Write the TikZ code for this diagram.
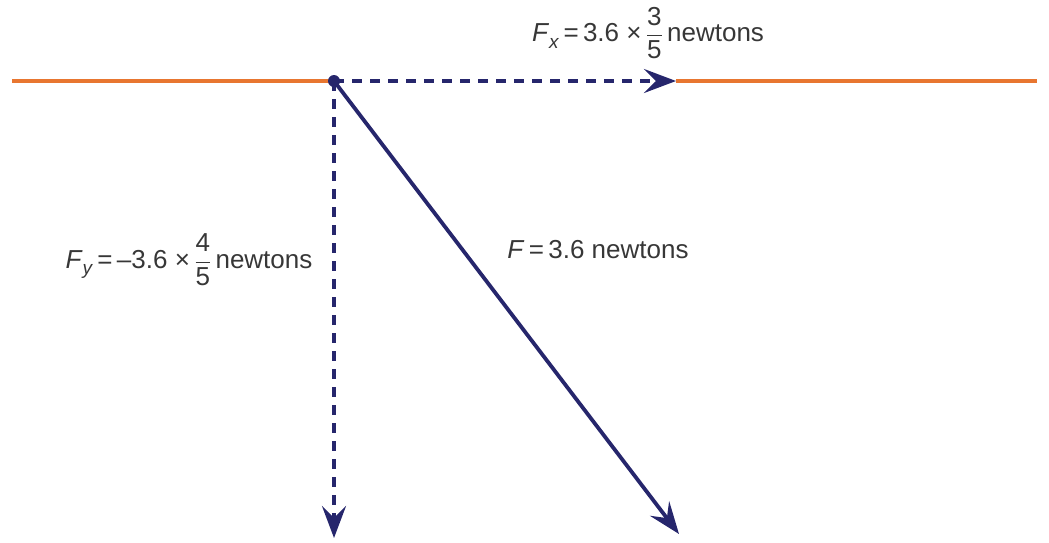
\documentclass[tikz,border=0pt]{standalone}
\usepackage{amsmath}
\usepackage{fontspec}
\setmainfont{Liberation Sans}
\usetikzlibrary{arrows.meta}
\definecolor{navy}{RGB}{38,38,108}
\definecolor{ground}{RGB}{232,118,48}
\definecolor{labelgray}{RGB}{55,55,55}
\tikzset{
  vec/.style={navy, line width=3.8pt, -{Stealth[length=32pt,width=24pt,inset=12pt]}},
  comp/.style={vec, dash pattern=on 10pt off 8pt},
  groundline/.style={ground, line width=3.2pt},
  lbl/.style={text=labelgray, font=\fontsize{26}{30}\selectfont, inner sep=0pt},
}
\newcommand{\fr}[2]{$\dfrac{\text{#1}}{\text{#2}}$}
\newcommand{\sub}[1]{\raisebox{-0.45ex}{\fontsize{19}{22}\selectfont\textit{#1}}}
\begin{document}
\begin{tikzpicture}[x=1pt,y=-1pt]
\useasboundingbox (0,0) rectangle (1049,542);
\coordinate (L) at (12,81);
\coordinate (R) at (1037,81);
\coordinate (O) at (334,81);
\coordinate (X) at (676,81);
\coordinate (Y) at (334,538);
\coordinate (F) at (679,534);
\draw[groundline] (L) -- (O);
\draw[groundline] (X) -- (R);
\draw[comp] (O) -- (X);
\draw[comp] (O) -- (Y);
\draw[vec] (O) -- (F);
\fill[navy] (O) circle (6pt);
\node[lbl] (fx) at (648,33) {\textit{F}\sub{x}\,=\,3.6 ×\,\fr{3}{5}\,newtons};
\node[lbl] (fy) at (189,260) {\textit{F}\sub{y}\,=\,–3.6 ×\,\fr{4}{5}\,newtons};
\node[lbl] (f) at (598,250) {\textit{F}\,=\,3.6 newtons};
\end{tikzpicture}
\end{document}
